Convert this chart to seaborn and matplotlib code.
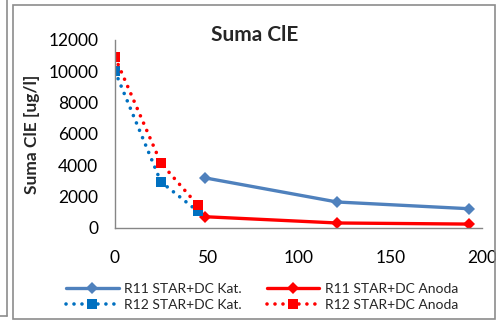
import pandas as pd
import numpy as np
import seaborn as sns
import matplotlib.pyplot as plt
from matplotlib.patches import Rectangle
from matplotlib.lines import Line2D

# data
r11_x = [49, 121, 193]
r11_kat = [3200, 1660, 1230]
r11_anoda = [720, 320, 250]
r12_x = [0, 25, 45]
r12_kat = [10000, 2950, 1080]
r12_anoda = [10900, 4150, 1470]

sns.set_style('white')
plt.rcParams['font.family'] = ['Lato', 'DejaVu Sans']

fig = plt.figure(figsize=(4.96, 3.2), dpi=100)
ax = fig.add_axes([115/496, 92/320, 367/496, 188/320])

dots = (0, (0.01, 2.2))
sns.lineplot(x=r11_x, y=r11_kat, ax=ax, color='#4F81BD', lw=2.4, marker='D', markersize=6.5,
             markeredgewidth=0, label='R11 STAR+DC Kat.')
sns.lineplot(x=r11_x, y=r11_anoda, ax=ax, color='#FF0000', lw=2.4, marker='D', markersize=6.5,
             markeredgewidth=0, label='R11 STAR+DC Anoda')
sns.lineplot(x=r12_x, y=r12_kat, ax=ax, color='#0070C0', lw=2.6, ls=dots, marker='s',
             markersize=7, markeredgewidth=0, dash_capstyle='round', label='R12 STAR+DC Kat.')
sns.lineplot(x=r12_x, y=r12_anoda, ax=ax, color='#FF0000', lw=2.6, ls=dots, marker='s',
             markersize=7, markeredgewidth=0, dash_capstyle='round', label='R12 STAR+DC Anoda')

ax.set_xlim(0, 200)
ax.set_ylim(0, 12000)
ax.set_xticks([0, 50, 100, 150, 200])
ax.set_yticks(np.arange(0, 12001, 2000))
ax.tick_params(axis='both', length=0, labelsize=12.5, colors='black')
ax.tick_params(axis='x', pad=16)
ax.tick_params(axis='y', pad=12)
for s in ['top', 'right']:
    ax.spines[s].set_visible(False)
for s in ['left', 'bottom']:
    ax.spines[s].set_color('#868686')
    ax.spines[s].set_linewidth(1)

ax.set_ylabel('Suma ClE [ug/l]', fontsize=12.5, fontweight='bold')
ax.yaxis.set_label_coords(-0.205, 0.5)
ax.set_xlabel('')
fig.text(255/496, 1 - 35/320, 'Suma ClE', ha='center', va='center', fontsize=15, fontweight='bold')

handles, labels = ax.get_legend_handles_labels()
ax.get_legend().remove()
order = [0, 2, 1, 3]
fig.legend([handles[i] for i in order], [labels[i] for i in order], ncol=2,
           loc='center', bbox_to_anchor=(262/496, 1 - 297/320), frameon=False,
           fontsize=10, handlelength=3.8, columnspacing=1.8, labelspacing=0.25, handletextpad=0.4)

# frame of the chart and neighbour chart edge
fig.patches.append(Rectangle((13/496, 1/320), 482/496, 314/320, transform=fig.transFigure,
                             fill=False, edgecolor='#8c8c8c', lw=1.2))
fig.lines.append(Line2D([7/496, 7/496], [4/320, 1], transform=fig.transFigure, color='#8c8c8c', lw=1.2))
fig.lines.append(Line2D([0, 7/496], [4/320, 4/320], transform=fig.transFigure, color='#8c8c8c', lw=1.2))

fig.savefig('out.png', dpi=100)
